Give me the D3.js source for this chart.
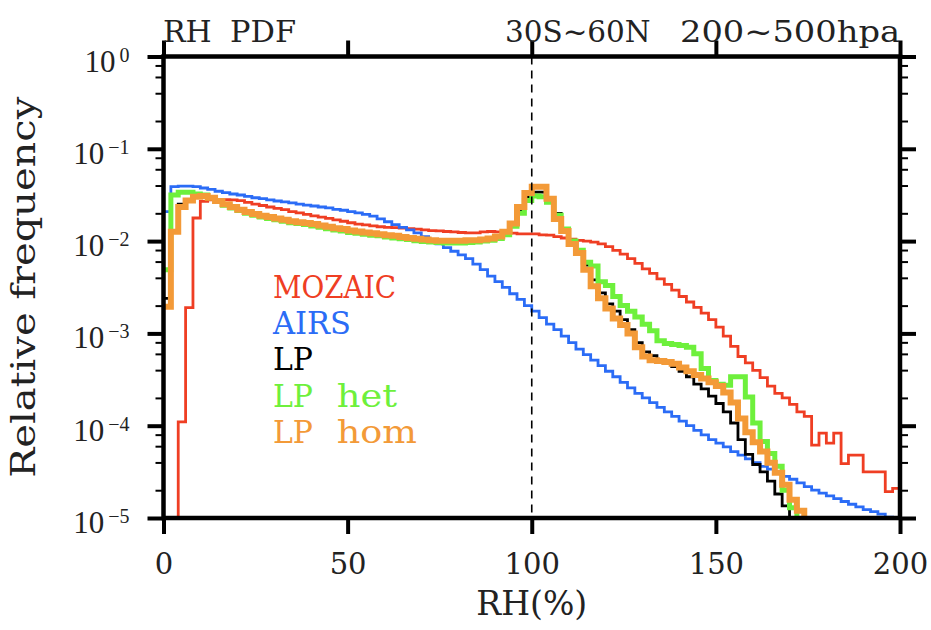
<!DOCTYPE html>
<html lang="en">
<head>
<meta charset="utf-8">
<script src="https://d3js.org/d3.v7.min.js"></script>
<style>
  body { margin: 0; background: #fff; }
  text { font-family: "DejaVu Serif", serif; fill: #222; }
  .frame { fill: none; stroke: #000; stroke-width: 4.5px; }
  .axis .domain { display: none; }
  .major line { stroke: #000; stroke-width: 4px; }
  .minor line { stroke: #000; stroke-width: 2px; }
  .axis--x text { font-family: "DejaVu Serif", serif; font-size: 29px; fill: #222; }
  .ylab { font-family: "Liberation Serif", serif; }
  .hist { fill: none; stroke-linejoin: miter; }
</style>
</head>
<body>
<div id="chart"></div>
<script>
var margin = { top: 56.5, right: 31, bottom: 112, left: 163.5 },
    width = 931 - margin.left - margin.right,
    height = 630 - margin.top - margin.bottom;

// RH bins, 2% wide, left edges
var binWidth = 2;
var binStart = d3.range(0, 200, binWidth);

var xTicks = [0, 50, 100, 150, 200];
var yMajor = [1e-5, 1e-4, 1e-3, 1e-2, 1e-1, 1];
var yExp = ["\u22125", "\u22124", "\u22123", "\u22122", "\u22121", "0"];

var seriesNames = ["MOZAIC", "AIRS", "LP", "LP het", "LP hom"];
var seriesColors = ["#ef3e23", "#2b6cf6", "#000000", "#6ef03c", "#f39a38"];
var seriesWidths = [2.8, 2.8, 2.8, 5, 6];

// relative frequency per bin (0 = below the plotted range)
var mozaic = [
  0, 0, 1.1e-4, 1.9e-3, 0.0178, 0.0269, 0.0279, 0.0282, 0.0282, 0.0279,
  0.0275, 0.0263, 0.0251, 0.0243, 0.0234, 0.0226, 0.0219, 0.0209, 0.0202, 0.0195,
  0.0188, 0.0182, 0.0176, 0.0170, 0.0164, 0.0158, 0.0153, 0.0150, 0.0146, 0.0143,
  0.0141, 0.0140, 0.0138, 0.0136, 0.0135, 0.0132, 0.0130, 0.0129, 0.0127, 0.0126,
  0.0124, 0.0123, 0.0123, 0.0126, 0.0127, 0.0126, 0.0124, 0.0122, 0.0120, 0.0120,
  0.0120, 0.0117, 0.0116, 0.0112, 0.0108, 0.0105, 0.0102, 0.0100, 0.00977, 0.00933,
  0.00871, 0.00794, 0.00724, 0.00646, 0.00575, 0.00501, 0.00447, 0.00389, 0.00339, 0.00295,
  0.00251, 0.00219, 0.00191, 0.00166, 0.00141, 0.00117, 0.000933, 0.000724, 0.000562, 0.000479,
  0.000398, 0.000331, 0.000269, 0.000224, 0.000200, 0.000170, 0.000141, 0.000126, 6.17e-5, 8.32e-5,
  6.46e-5, 8.32e-5, 3.89e-5, 4.79e-5, 4.79e-5, 3.16e-5, 3.16e-5, 3.16e-5, 1.93e-5, 2.09e-5
];
var airs = [
  0.0209, 0.0389, 0.0394, 0.0394, 0.0389, 0.0376, 0.0363, 0.0347, 0.0335, 0.0324,
  0.0316, 0.0305, 0.0295, 0.0288, 0.0279, 0.0272, 0.0266, 0.0260, 0.0251, 0.0245,
  0.0240, 0.0234, 0.0229, 0.0221, 0.0216, 0.0209, 0.0202, 0.0195, 0.0186, 0.0174,
  0.0162, 0.0151, 0.0141, 0.0132, 0.0123, 0.0112, 0.0102, 0.00933, 0.00851, 0.00776,
  0.00708, 0.00646, 0.00562, 0.00490, 0.00417, 0.00363, 0.00316, 0.00269, 0.00234, 0.00200,
  0.00174, 0.00148, 0.00126, 0.00110, 0.000933, 0.000794, 0.000676, 0.000589, 0.000513, 0.000447,
  0.000389, 0.000339, 0.000295, 0.000257, 0.000224, 0.000200, 0.000178, 0.000158, 0.000141, 0.000126,
  0.000112, 0.000100, 8.91e-5, 7.94e-5, 7.08e-5, 6.46e-5, 5.89e-5, 5.25e-5, 4.79e-5, 4.37e-5,
  3.98e-5, 3.63e-5, 3.39e-5, 3.09e-5, 2.82e-5, 2.63e-5, 2.40e-5, 2.19e-5, 2.00e-5, 1.86e-5,
  1.74e-5, 1.62e-5, 1.51e-5, 1.41e-5, 1.32e-5, 1.23e-5, 1.17e-5, 1.10e-5, 1.02e-5, 0
];
var lp = [
  0.0024, 0.0126, 0.0251, 0.0282, 0.0302, 0.0309, 0.0295, 0.0272, 0.0251, 0.0234,
  0.0219, 0.0207, 0.0197, 0.0188, 0.0182, 0.0176, 0.0170, 0.0164, 0.0160, 0.0157,
  0.0153, 0.0148, 0.0143, 0.0138, 0.0135, 0.0130, 0.0127, 0.0124, 0.0122, 0.0119,
  0.0116, 0.0114, 0.0111, 0.0108, 0.0106, 0.0104, 0.0102, 0.0101, 0.0101, 0.0101,
  0.0101, 0.0102, 0.0102, 0.0104, 0.0107, 0.0112, 0.0126, 0.0155, 0.0219, 0.0302,
  0.0339, 0.0339, 0.0275, 0.0200, 0.0135, 0.00977, 0.00794, 0.00550, 0.00380, 0.00275,
  0.00209, 0.00174, 0.00141, 0.00110, 0.000794, 0.000631, 0.000575, 0.000513, 0.000479, 0.000437,
  0.000389, 0.000339, 0.000282, 0.000251, 0.000209, 0.000174, 0.000141, 0.000107, 7.08e-5, 4.90e-5,
  3.80e-5, 3.16e-5, 2.51e-5, 1.82e-5, 1.35e-5, 0, 0, 0, 0, 0,
  0, 0, 0, 0, 0, 0, 0, 0, 0, 0
];
var lpHet = [
  0.0049, 0.0316, 0.0339, 0.0339, 0.0324, 0.0316, 0.0295, 0.0269, 0.0245, 0.0229,
  0.0214, 0.0200, 0.0191, 0.0182, 0.0176, 0.0170, 0.0164, 0.0158, 0.0155, 0.0151,
  0.0146, 0.0141, 0.0136, 0.0132, 0.0129, 0.0124, 0.0122, 0.0119, 0.0116, 0.0114,
  0.0111, 0.0108, 0.0106, 0.0104, 0.0101, 0.00989, 0.00977, 0.00966, 0.00955, 0.00955,
  0.00955, 0.00966, 0.00977, 0.0100, 0.0102, 0.0107, 0.0117, 0.0145, 0.0200, 0.0275,
  0.0309, 0.0302, 0.0263, 0.0191, 0.0135, 0.0100, 0.00794, 0.00589, 0.00537, 0.00363,
  0.00331, 0.00251, 0.00200, 0.00174, 0.00151, 0.00126, 0.00107, 0.000832, 0.000776, 0.000759,
  0.000741, 0.000708, 0.000603, 0.000417, 0.000309, 0.000282, 0.000275, 0.000339, 0.000339, 0.000204,
  0.000107, 6.76e-5, 5.01e-5, 3.63e-5, 2.00e-5, 1.29e-5, 0, 0, 0, 0,
  0, 0, 0, 0, 0, 0, 0, 0, 0, 0
];
var lpHom = [
  0.00195, 0.0126, 0.0234, 0.0275, 0.0302, 0.0309, 0.0295, 0.0272, 0.0251, 0.0234,
  0.0219, 0.0207, 0.0197, 0.0188, 0.0182, 0.0176, 0.0170, 0.0164, 0.0160, 0.0157,
  0.0153, 0.0148, 0.0143, 0.0138, 0.0135, 0.0130, 0.0127, 0.0124, 0.0122, 0.0119,
  0.0116, 0.0114, 0.0111, 0.0108, 0.0106, 0.0104, 0.0102, 0.0101, 0.0101, 0.0101,
  0.0101, 0.0102, 0.0102, 0.0104, 0.0107, 0.0112, 0.0126, 0.0155, 0.0234, 0.0331,
  0.0389, 0.0389, 0.0288, 0.0174, 0.0129, 0.00933, 0.00741, 0.00490, 0.00324, 0.00240,
  0.00186, 0.00145, 0.00123, 0.00100, 0.000708, 0.000562, 0.000513, 0.000501, 0.000490, 0.000468,
  0.000427, 0.000389, 0.000355, 0.000324, 0.000295, 0.000269, 0.000229, 0.000178, 0.000120, 8.51e-5,
  6.61e-5, 5.25e-5, 3.98e-5, 3.09e-5, 2.29e-5, 1.58e-5, 1.20e-5, 0, 0, 0,
  0, 0, 0, 0, 0, 0, 0, 0, 0, 0
];
var seriesData = [mozaic, airs, lp, lpHet, lpHom];

var svg = d3.select("#chart")
    .append("svg")
    .attr("width", width + margin.left + margin.right)
    .attr("height", height + margin.top + margin.bottom)
    .append("g")
    .attr("transform", "translate(" + margin.left + "," + margin.top + ")");

var x = d3.scaleLinear().domain([0, 200]).range([0, width]);
var y = d3.scaleLog().domain([1e-5, 1]).range([height, 0]);

var yMinor = yMajor.slice(0, -1).flatMap(function(d) {
    return [2, 4, 6, 8].map(function(m) { return d * m; });
});

svg.append("clipPath").attr("id", "plot-clip")
    .append("rect").attr("width", width).attr("height", height);

// step histograms
var line = d3.line()
    .curve(d3.curveStepAfter)
    .x(function(d) { return x(d[0]); })
    .y(function(d) { return y(Math.max(d[1], 1e-6)); });

var plot = svg.append("g").attr("clip-path", "url(#plot-clip)");

seriesData.forEach(function(vals, k) {
    var pts = binStart.map(function(b, i) { return [b, vals[i]]; });
    pts.push([binStart[binStart.length - 1] + binWidth, vals[vals.length - 1]]);
    plot.append("path")
        .attr("class", "hist")
        .attr("d", line(pts))
        .attr("stroke", seriesColors[k])
        .attr("stroke-width", seriesWidths[k]);
});

// RH = 100% reference
plot.append("line")
    .attr("x1", x(100)).attr("x2", x(100))
    .attr("y1", 0).attr("y2", height)
    .attr("stroke", "#000")
    .attr("stroke-width", 1.6)
    .attr("stroke-dasharray", "8,6");

// axes
svg.append("g")
    .attr("class", "axis axis--x major")
    .attr("transform", "translate(0," + height + ")")
    .call(d3.axisBottom(x).tickValues(xTicks).tickSize(16).tickPadding(19).tickFormat(d3.format("d")));

svg.append("g")
    .attr("class", "axis major")
    .call(d3.axisTop(x).tickValues(xTicks).tickSize(16).tickFormat(""));

svg.append("g")
    .attr("class", "axis major")
    .call(d3.axisLeft(y).tickValues(yMajor).tickSize(16).tickFormat(""));
svg.append("g")
    .attr("class", "axis minor")
    .call(d3.axisLeft(y).tickValues(yMinor).tickSize(8).tickFormat(""));
svg.append("g")
    .attr("class", "axis major")
    .attr("transform", "translate(" + width + ",0)")
    .call(d3.axisRight(y).tickValues(yMajor).tickSize(16).tickFormat(""));
svg.append("g")
    .attr("class", "axis minor")
    .attr("transform", "translate(" + width + ",0)")
    .call(d3.axisRight(y).tickValues(yMinor).tickSize(8).tickFormat(""));

svg.append("rect")
    .attr("class", "frame")
    .attr("width", width)
    .attr("height", height);

// y tick labels: 10 with exponent
var ylab = svg.selectAll(".ylab")
    .data(yMajor)
    .enter().append("text")
    .attr("class", "ylab")
    .attr("x", -34)
    .attr("y", function(d) { return y(d) + 15; })
    .attr("text-anchor", "end");
ylab.append("tspan").attr("font-size", 31).text("10");
ylab.append("tspan")
    .attr("font-size", 20)
    .attr("dx", 4)
    .attr("dy", -10)
    .text(function(d, i) { return yExp[i]; });

// titles
var t1 = svg.append("text")
    .attr("x", -0.5)
    .attr("y", -14.5)
    .style("font-size", "30px");
t1.append("tspan").text("RH ");
t1.append("tspan").attr("x", 66.5).attr("textLength", 66).attr("lengthAdjust", "spacingAndGlyphs").text("PDF");

var t2 = svg.append("text")
    .attr("y", -14.5)
    .style("font-size", "30px");
t2.append("tspan").attr("x", 341.5).attr("textLength", 155).attr("lengthAdjust", "spacingAndGlyphs").text("30S~60N ");
t2.append("tspan").attr("x", 516.5).attr("textLength", 220).attr("lengthAdjust", "spacingAndGlyphs").text("200~500hpa");

svg.append("text")
    .attr("x", x(100))
    .attr("y", height + 97)
    .attr("text-anchor", "middle")
    .attr("textLength", 111)
    .attr("lengthAdjust", "spacingAndGlyphs")
    .style("font-size", "34px")
    .text("RH(%)");

svg.append("text")
    .attr("transform", "translate(" + (-129) + "," + (y(1e-5) + y(1)) / 2 + ") rotate(-90)")
    .attr("text-anchor", "middle")
    .attr("textLength", 381)
    .attr("lengthAdjust", "spacingAndGlyphs")
    .style("font-size", "33px")
    .text("Relative frequency");

// legend: first word, then second word placed with the wide gap of the original
var legendFirstW = [123, 78, 40, 40, 40];
var legendSecondW = [0, 0, 0, 72, 92];

var legend = svg.selectAll(".legend")
    .data(seriesNames)
    .enter().append("text")
    .attr("class", "legend")
    .attr("y", function(d, i) { return 241.5 + i * 36.2; })
    .style("font-size", "31px")
    .style("fill", function(d, i) { return seriesColors[i]; });

legend.each(function(d, i) {
    var parts = d.split(" ");
    var t = d3.select(this);
    t.append("tspan")
        .attr("x", 109.5)
        .attr("textLength", legendFirstW[i])
        .attr("lengthAdjust", "spacingAndGlyphs")
        .text(parts[0]);
    if (parts.length > 1) {
        t.append("tspan")
            .attr("x", 161.5)
            .attr("textLength", legendSecondW[i])
            .attr("lengthAdjust", "spacingAndGlyphs")
            .text(" " + parts[1]);
    }
});
</script>
</body>
</html>
